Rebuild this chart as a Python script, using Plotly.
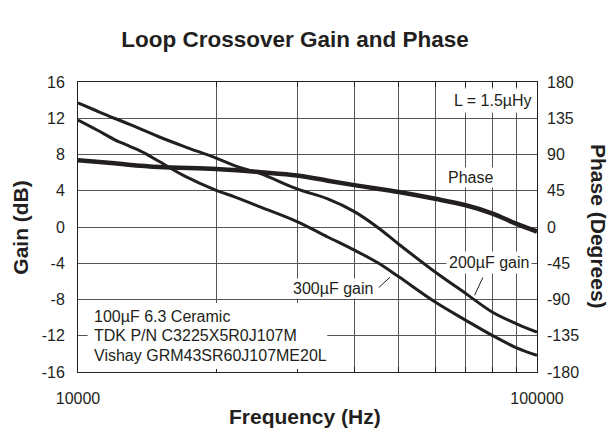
import numpy as np
import plotly.graph_objects as go

# ---- data ----
freq_hz = [10000, 11000, 12000, 13000, 14000, 15000, 17000, 20000, 22000, 25000,
           30000, 35000, 40000, 45000, 50000, 60000, 70000, 80000, 90000, 100000]
gain_200uF_db = [13.7, 12.8, 12.0, 11.3, 10.6, 9.96, 8.9, 7.6, 6.75, 5.88,
                 4.2, 3.1, 1.7, -0.05, -1.9, -4.97, -7.35, -9.4, -10.65, -11.6]
gain_300uF_db = [11.8, 10.7, 9.65, 8.88, 8.13, 7.25, 5.67, 4.05, 3.3, 2.2,
                 0.6, -1.1, -2.55, -3.95, -5.5, -8.28, -10.3, -11.98, -13.3, -14.16]
phase_freq_hz = [10000, 12000, 15000, 20000, 25000, 30000, 35000, 40000, 45000,
                 50000, 60000, 70000, 80000, 90000, 100000]
phase_deg = [83, 79, 74.5, 72, 68, 64, 57.5, 52, 47.6, 43.4, 35, 27, 16.7, 4.2, -5.6]

x_tickvals = [10000, 20000, 30000, 40000, 50000, 60000, 70000, 80000, 90000, 100000]
x_ticktext = ["10000", "", "", "", "", "", "", "", "", "100000"]
gain_ticks = [-16, -12, -8, -4, 0, 4, 8, 12, 16]
gain_ticktext = ["-16", "-12", "-8", "-4", "0", "4", "8", "12", "16"]
phase_ticks = [-180, -135, -90, -45, 0, 45, 90, 135, 180]
phase_ticktext = ["-180", "-135", "-90", "-45", "0", "45", "90", "135", "180"]
note_lines = ["100µF 6.3 Ceramic", "TDK P/N C3225X5R0J107M", "Vishay GRM43SR60J107ME20L"]

FONT = "Arial, 'Liberation Sans', Helvetica, sans-serif"
INK = "#231f20"
GRID = "#555555"

fig = go.Figure()
fig.add_trace(go.Scatter(x=phase_freq_hz, y=phase_deg, yaxis="y2", mode="lines",
                         line=dict(color=INK, width=4.5, shape="spline"), name="Phase"))
fig.add_trace(go.Scatter(x=freq_hz, y=gain_200uF_db, mode="lines",
                         line=dict(color=INK, width=3, shape="spline"), name="200uF gain"))
fig.add_trace(go.Scatter(x=freq_hz, y=gain_300uF_db, mode="lines",
                         line=dict(color=INK, width=3, shape="spline"), name="300uF gain"))

tickfont = dict(family=FONT, size=16, color=INK)
titlefont = dict(family=FONT, size=21, color=INK)

fig.update_layout(
    width=611, height=437,
    margin=dict(l=78, r=74, t=82, b=65, autoexpand=False),
    paper_bgcolor="white", plot_bgcolor="white",
    showlegend=False,
    title=dict(text="<b>Loop Crossover Gain and Phase</b>", x=0.473, xanchor="center",
               xref="paper", y=1 - 39 / 437, yanchor="middle",
               font=dict(family=FONT, size=22.5, color=INK)),
    xaxis=dict(type="log", range=[4, 5], tickvals=x_tickvals, ticktext=x_ticktext,
               showgrid=True, gridcolor=GRID, gridwidth=1, zeroline=False,
               showline=True, linecolor=INK, linewidth=1, mirror="ticks",
               ticks="inside", ticklen=5, tickcolor=INK, tickfont=tickfont,
               ticklabelstandoff=12),
    yaxis=dict(range=[-16, 16], tickvals=gain_ticks, ticktext=gain_ticktext,
               showgrid=True, gridcolor=GRID,
               gridwidth=1, zeroline=False, showline=True, linecolor=INK, linewidth=1,
               mirror=True, ticks="", tickfont=tickfont, ticklabelstandoff=9),
    yaxis2=dict(range=[-180, 180], tickvals=phase_ticks, ticktext=phase_ticktext,
                overlaying="y", side="right",
                showgrid=False, zeroline=False, showline=False, ticks="",
                tickfont=tickfont, ticklabelstandoff=9),
)

ann_font = dict(family=FONT, size=16, color=INK)
fig.add_annotation(xref="paper", yref="paper", x=0.997, y=0.937, xanchor="right",
                   yanchor="middle", text="L = 1.5µHy", showarrow=False,
                   bgcolor="white", borderpad=3, font=ann_font)
fig.add_annotation(xref="paper", yref="paper", x=0.855, y=0.671, xanchor="center",
                   yanchor="middle", text="Phase",
                   showarrow=False, bgcolor="white", borderpad=1, font=ann_font)
fig.add_annotation(xref="paper", yref="paper", x=0.556, y=0.289, xanchor="center",
                   yanchor="middle", text="300µF gain",
                   showarrow=False, bgcolor="white", borderpad=1, font=ann_font)
fig.add_annotation(xref="paper", yref="paper", x=0.896, y=0.377, xanchor="center",
                   yanchor="middle", text="200µF gain",
                   showarrow=False, bgcolor="white", borderpad=2, font=ann_font)

# white panel behind the capacitor note
fig.add_shape(type="rect", xref="paper", yref="paper", x0=0.021, x1=0.543, y0=0.0103, y1=0.238,
              fillcolor="white", line=dict(width=0), layer="above")
for line_text, ypos in zip(note_lines, [0.1907, 0.1252, 0.0586]):
    fig.add_annotation(xref="paper", yref="paper", x=0.0299, y=ypos, xanchor="left",
                       yanchor="middle", align="left", text=line_text,
                       showarrow=False, font=ann_font)

# pointer lines
fig.add_shape(type="line", xref="paper", yref="paper", x0=0.655, y0=0.291, x1=0.680, y1=0.327,
              line=dict(color=INK, width=1))
fig.add_shape(type="line", xref="paper", yref="paper", x0=0.882, y0=0.3256, x1=0.864, y1=0.2644,
              line=dict(color=INK, width=1))
# axis titles
fig.add_annotation(xref="paper", yref="paper", x=0.495, y=-0.155, xanchor="center",
                   yanchor="middle", text="<b>Frequency (Hz)</b>", showarrow=False, font=titlefont)
fig.add_annotation(xref="paper", yref="paper", x=-0.127, y=0.5, xanchor="center",
                   yanchor="middle", text="<b>Gain (dB)</b>", textangle=-90,
                   showarrow=False, font=titlefont)
fig.add_annotation(xref="paper", yref="paper", x=1.135, y=0.5, xanchor="center",
                   yanchor="middle", text="<b>Phase (Degrees)</b>", textangle=90,
                   showarrow=False, font=titlefont)

fig.write_html("out.html", config={"displayModeBar": False},
               post_script="document.body.style.margin='0';")
